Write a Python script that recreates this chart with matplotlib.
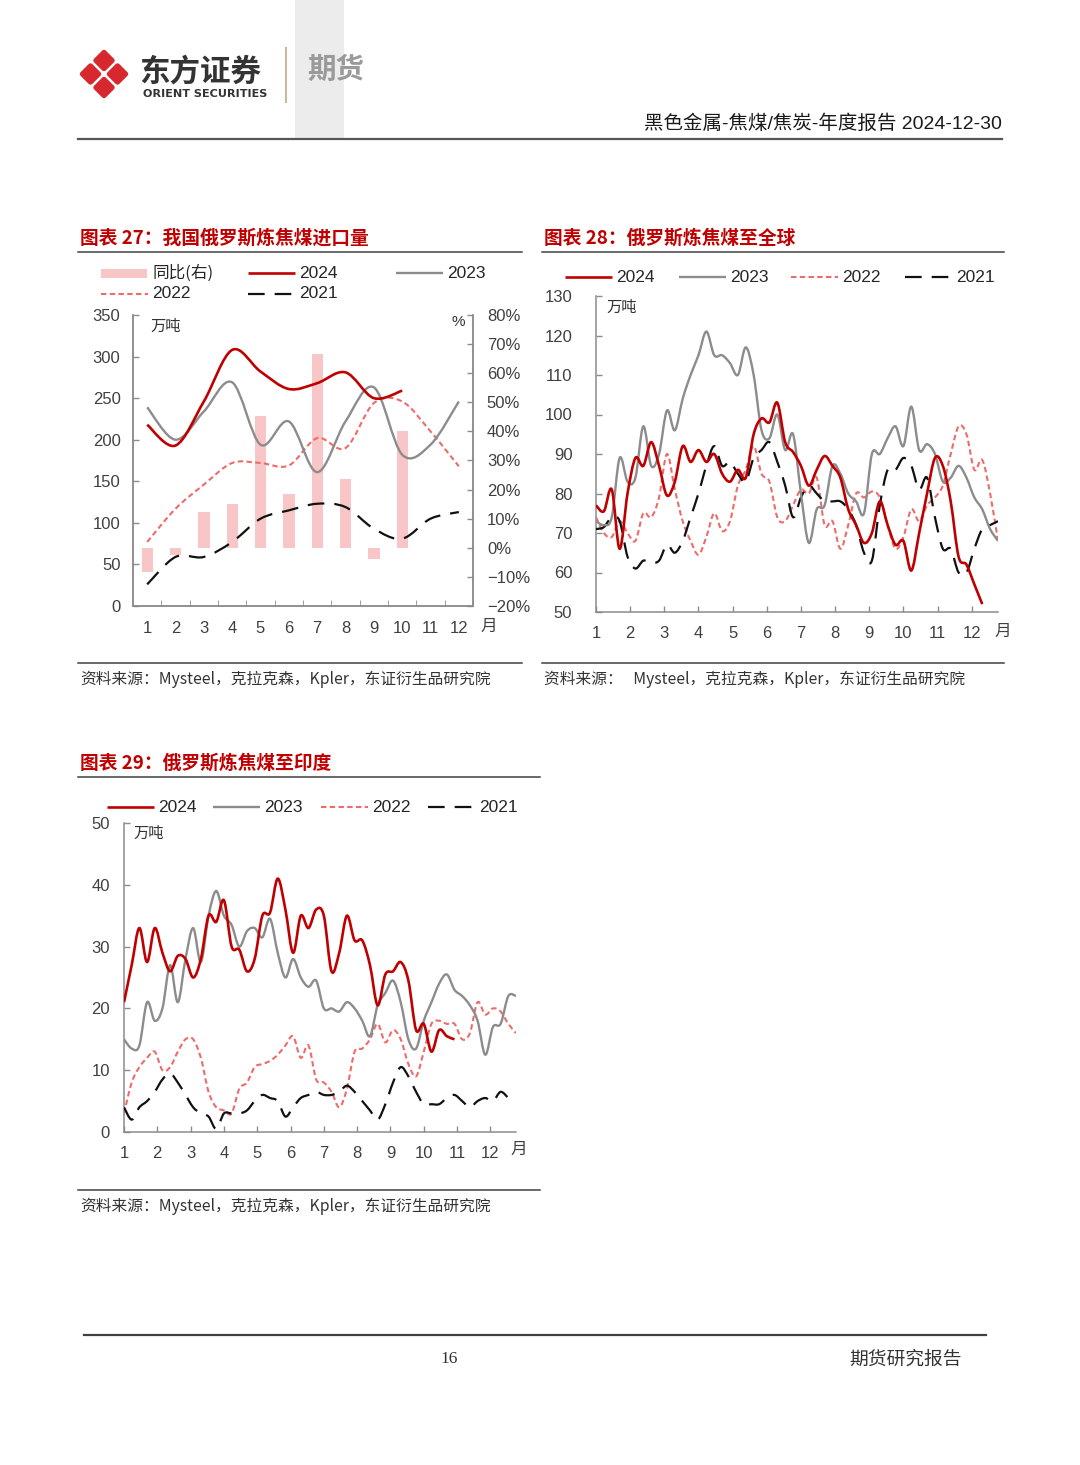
import numpy as np
import matplotlib.pyplot as plt
from matplotlib.path import Path
from matplotlib.patches import PathPatch, Polygon, Rectangle
from matplotlib.ticker import FixedLocator, FuncFormatter

plt.rcParams['font.family'] = ['Liberation Sans', 'Noto Sans CJK SC', 'DejaVu Sans']
plt.rcParams['axes.unicode_minus'] = True

# ---- chart 27: monthly imports of Russian coking coal (10k t) and yoy (%)
c27_months = list(range(1, 13))
c27_2024 = [218, 193, 246, 308, 282, 261, 268, 281, 250, 259]
c27_2023 = [239, 200, 234, 269, 194, 222, 161, 222, 263, 182, 194, 246]
c27_2022 = [77, 117, 146, 172, 172, 169, 202, 190, 244, 246, 210, 168]
c27_2021 = [26, 59, 59, 77, 105, 115, 123, 119, 93, 81, 105, 113]
c27_yoy = [-8.3, -2.5, 12.4, 14.9, 45.2, 18.4, 66.5, 23.5, -4.0, 40.0]

# ---- chart 28: weekly Russian coking coal shipments, global (10k t)
c28_2024 = [77, 75.5, 81, 66, 80, 89, 87, 93, 87, 79.5, 83, 92, 88, 91, 88, 90, 85,
            83, 86, 84, 95, 99, 98, 103, 93, 90.5, 87, 82, 86, 89.5, 87, 84, 76, 72,
            67.5, 70, 78, 72, 67, 68, 60.5, 70, 80, 89, 87, 78, 64, 62, 57, 52]
c28_2023 = [73, 72, 74, 89, 83, 84, 97, 87, 90, 101, 96, 104, 110, 115, 121, 115, 115,
            113, 110, 117, 110, 96, 94, 100, 91, 95, 80, 67.5, 76, 77, 87, 85, 80, 78,
            75, 90, 90, 94, 97, 92, 102, 91, 92.5, 90, 83, 84, 87, 84, 79, 76, 71, 68]
c28_2022 = [74, 70, 69, 73, 70, 68, 75, 74, 79, 90, 81, 73, 68, 64.5, 69, 75, 70.5,
            73, 82, 86, 92, 85, 83, 74, 73, 77, 81, 80, 84, 72, 73, 66, 72, 80, 79,
            80.5, 79, 72, 66, 69, 76, 73, 77, 79, 82, 90, 97, 95, 86, 88.5, 80, 68]
c28_2021 = [71, 71.5, 74, 73, 64, 61, 63, 62.5, 63, 67, 65, 68, 74, 80, 87, 92, 87,
            88, 85, 83, 89, 91, 93, 88, 82, 74, 79, 82, 80, 78, 78, 78, 76, 72, 65,
            63, 77, 86, 86, 89, 87, 81, 84, 74, 66, 66, 60, 60, 66, 71, 72, 73]

# ---- chart 29: weekly Russian coking coal shipments to India (10k t)
c29_2024 = [21, 27, 33, 27.5, 33, 29, 26, 28.5, 28, 25, 28, 35, 34, 37.5, 30, 29.5,
            26, 28, 35, 35.5, 41, 36, 29, 35, 33, 36, 35, 26, 29, 35, 31, 31, 27,
            20.5, 25.5, 26, 27.5, 24.5, 16.5, 17.5, 13, 16.5, 15.5, 15]
c29_2023 = [15, 13.5, 14, 21, 18, 20, 27, 21, 28, 33, 27.5, 35, 39, 35, 33.5, 30,
            32.5, 33, 31.5, 34.5, 29, 25, 28, 25, 23.5, 24.5, 20, 20, 19.5, 21, 20,
            18, 15.5, 20.5, 22.5, 24.5, 21, 15, 13.5, 18, 21, 24, 25.5, 23, 22,
            20.5, 18, 12.5, 17, 17.5, 22, 22]
c29_2022 = [3, 8, 10.5, 12, 13, 10, 10.5, 13, 15, 15, 12, 6.5, 4, 3.5, 3, 7, 8,
            10.5, 11, 11.5, 12.5, 14, 15.5, 12, 14, 8.5, 8, 6.5, 4, 7, 13, 13.5,
            15, 17.5, 14.5, 16.5, 15, 11, 9, 13, 17.5, 18, 17.5, 17.5, 15, 16, 21,
            19, 20, 19.5, 17.5, 16]
c29_2021 = [4, 2, 4, 5, 6.5, 8.5, 9.5, 8, 6, 4, 3, 2.5, 0.5, 3, 3, 3, 3.5, 5, 6,
            5.5, 5, 2.5, 4, 5.5, 6, 6.5, 6, 6, 6.5, 7.5, 6.5, 5, 3.5, 2, 4.5, 8,
            10.5, 9, 6.5, 4.5, 4.5, 4.5, 5.5, 6, 5, 4, 5, 5.5, 5, 6.5, 5.5]

year_labels = ['2024', '2023', '2022', '2021']
RED = '#c00000'
GREY = '#8c8c8c'
PINK = '#ee6b6b'
BLACK = '#111111'
BAR = '#f8c6c6'
TXT = '#404040'

styles = {
    '2024': dict(color=RED, lw=1.9, ls='-'),
    '2023': dict(color=GREY, lw=1.7, ls='-'),
    '2022': dict(color=PINK, lw=1.5, ls=(0, (2.6, 1.6))),
    '2021': dict(color=BLACK, lw=1.6, ls=(0, (7.5, 4.5))),
}

W, H = 1080, 1465
fig = plt.figure(figsize=(W / 100, H / 100), dpi=100)


def box(x0, y0, x1, y1):
    return [x0 / W, 1 - y1 / H, (x1 - x0) / W, (y1 - y0) / H]


def smooth_line(ax, x, y, key, z=3):
    # smoothed line like the excel chart, drawn as bezier path
    pts = np.column_stack([x, y]).astype(float)
    n = len(pts)
    verts = [pts[0]]
    codes = [Path.MOVETO]
    for i in range(n - 1):
        p0 = pts[max(i - 1, 0)]
        p1 = pts[i]
        p2 = pts[i + 1]
        p3 = pts[min(i + 2, n - 1)]
        verts += [p1 + (p2 - p0) / 6, p2 - (p3 - p1) / 6, p2]
        codes += [Path.CURVE4] * 3
    st = styles[key]
    ax.add_patch(PathPatch(Path(verts, codes), fill=False, edgecolor=st['color'],
                           lw=st['lw'], linestyle=st['ls'], zorder=z,
                           capstyle='butt', joinstyle='round'))


page = fig.add_axes([0, 0, 1, 1])
page.set_xlim(0, W)
page.set_ylim(H, 0)
page.axis('off')

# ---- header
page.add_patch(Rectangle((295, 0), 49, 138, color='#ececec', lw=0))
cx, cy, h = 104, 74, 13.5
for dx, dy in [(-h, 0), (h, 0), (0, -h), (0, h)]:
    k = 8.3
    px, py = cx + dx, cy + dy
    page.add_patch(Polygon([(px, py - k), (px + k, py), (px, py + k), (px - k, py)],
                           closed=True, facecolor='#d7282f', edgecolor='#d7282f',
                           lw=3.5, joinstyle='round'))
page.text(139, 72, '东方证券', fontsize=22, fontweight='bold', color='#333333',
          family='Noto Sans CJK SC', va='center', ha='left')
page.text(143, 94, 'ORIENT SECURITIES', fontsize=8.1, fontweight='bold',
          color='#333333', family='DejaVu Sans', va='center', ha='left')
page.plot([286, 286], [48, 102], color='#c9b99a', lw=1.5)
page.text(307, 70, '期货', fontsize=20.5, fontweight='bold', color='#9a9a9a',
          family='Noto Sans CJK SC', va='center', ha='left')
page.text(1002, 124, '黑色金属-焦煤/焦炭-年度报告 2024-12-30', fontsize=14,
          color='#1a1a1a', va='center', ha='right')
page.plot([78, 1002], [138.5, 138.5], color='#555555', lw=1.6)

# ---- footer
page.plot([84, 986], [1335, 1335], color='#404040', lw=1.6)
page.text(449, 1359, '16', fontsize=12.5, color='#333333', family='Liberation Serif',
          va='center', ha='center')
page.text(962, 1359, '期货研究报告', fontsize=13.5, color='#333333',
          family='Noto Sans CJK SC', va='center', ha='right')


def frame(x0, x1, ytitle, ysrc, title, src):
    page.text(x0 + 2, ytitle, title, fontsize=13.5, fontweight='bold', color=RED,
              family='Noto Sans CJK SC', va='center', ha='left')
    page.plot([x0, x1], [ytitle + 14, ytitle + 14], color='#404040', lw=1.1)
    page.plot([x0, x1], [ysrc, ysrc], color='#404040', lw=1.1)
    page.text(x0 + 2, ysrc + 16, src, fontsize=11.3, color='#333333',
              family='Noto Sans CJK SC', va='center', ha='left')


def legend_line(x, y, key, label):
    st = styles[key]
    page.plot([x, x + 47], [y, y], color=st['color'], lw=st['lw'], ls=st['ls'],
              solid_capstyle='butt', dash_capstyle='butt')
    page.text(x + 51, y, label, fontsize=12.5, color='#262626', va='center', ha='left')


src_text = '资料来源：Mysteel，克拉克森，Kpler，东证衍生品研究院'
frame(78, 522, 238, 663, '图表 27：我国俄罗斯炼焦煤进口量', src_text)
frame(542, 1004, 238, 663, '图表 28：俄罗斯炼焦煤至全球',
      '资料来源：   Mysteel，克拉克森，Kpler，东证衍生品研究院')
frame(78, 540, 763, 1190, '图表 29：俄罗斯炼焦煤至印度', src_text)


def style_axis(ax, spines):
    for s in ['left', 'right', 'top', 'bottom']:
        ax.spines[s].set_visible(s in spines)
        ax.spines[s].set_color('#8c8c8c')
        ax.spines[s].set_linewidth(1.1)
    ax.tick_params(direction='in', length=4, width=1, color='#8c8c8c',
                   labelsize=12, labelcolor=TXT)


# ---- chart 27
ax27b = fig.add_axes(box(133, 315, 473, 606))
ax27 = ax27b.twinx()
ax27b.yaxis.tick_right()
ax27.yaxis.tick_left()
ax27.set_zorder(ax27b.get_zorder() + 1)
ax27.patch.set_visible(False)
ax27b.bar(c27_months[:len(c27_yoy)], c27_yoy, width=0.4, color=BAR, zorder=1)
ax27b.set_ylim(-20, 80)
ax27b.set_yticks(range(-20, 81, 10))
ax27b.yaxis.set_major_formatter(FuncFormatter(lambda v, p: f'{v:.0f}%'.replace('-', '\u2212')))
smooth_line(ax27, c27_months, c27_2022, '2022')
smooth_line(ax27, c27_months, c27_2021, '2021')
smooth_line(ax27, c27_months, c27_2023, '2023')
smooth_line(ax27, c27_months[:len(c27_2024)], c27_2024, '2024')
ax27.set_ylim(0, 350)
ax27.set_yticks(range(0, 351, 50))
for a in (ax27, ax27b):
    style_axis(a, ['left', 'right', 'bottom'])
ax27b.set_xlim(0.5, 12.5)
ax27b.set_xticks(c27_months)
ax27b.xaxis.set_minor_locator(FixedLocator(np.arange(1.5, 12, 1)))
ax27b.tick_params(axis='x', which='major', length=0, pad=11)
ax27b.tick_params(axis='x', which='minor', direction='in', length=4, color='#8c8c8c')
ax27b.tick_params(axis='y', pad=10)
ax27.tick_params(axis='y', pad=9)
ax27.text(0.05, 0.96, '万吨', transform=ax27.transAxes, fontsize=11, color='#333333',
          family='Noto Sans CJK SC', va='center', ha='left')
ax27.text(0.975, 0.975, '%', transform=ax27.transAxes, fontsize=11, color='#333333',
          va='center', ha='right')
page.text(480, 626, '月', fontsize=12, color=TXT, family='Noto Sans CJK SC',
          va='center', ha='left')
page.add_patch(Rectangle((101, 269), 46, 9, color=BAR, lw=0))
page.text(152, 273, '同比(右)', fontsize=12, color='#262626',
          family='Noto Sans CJK SC', va='center', ha='left')
legend_line(248, 273, '2024', '2024')
legend_line(396, 273, '2023', '2023')
legend_line(101, 294, '2022', '2022')
legend_line(248, 294, '2021', '2021')


def weekly_chart(rect, series, ylim, ystep, ypad, label_pos, legend_y, legend_x):
    ax = fig.add_axes(box(*rect))
    step = 12 / 52
    for key in ['2022', '2021', '2023', '2024']:
        vals = series[key]
        smooth_line(ax, 1 + np.arange(len(vals)) * step, vals, key)
    ax.set_xlim(1, 1 + 51 * step)
    ax.set_ylim(*ylim)
    ax.set_yticks(np.arange(ylim[0], ylim[1] + 1, ystep))
    ax.set_xticks(range(1, 13))
    style_axis(ax, ['left', 'bottom'])
    ax.tick_params(axis='y', pad=ypad)
    ax.tick_params(axis='x', pad=10)
    ax.text(0.025, 0.965, '万吨', transform=ax.transAxes, fontsize=11,
            color='#333333', family='Noto Sans CJK SC', va='center', ha='left')
    page.text(label_pos[0], label_pos[1], '月', fontsize=12, color=TXT,
              family='Noto Sans CJK SC', va='center', ha='left')
    for key, x in zip(year_labels, legend_x):
        legend_line(x, legend_y, key, key)
    return ax


weekly_chart((596, 296, 998, 612),
             {'2024': c28_2024, '2023': c28_2023, '2022': c28_2022, '2021': c28_2021},
             (50, 130), 10, 17, (994, 631), 277, [565, 679, 791, 905])
weekly_chart((124, 823, 516, 1132),
             {'2024': c29_2024, '2023': c29_2023, '2022': c29_2022, '2021': c29_2021},
             (0, 50), 10, 10, (510, 1149), 807, [107, 213, 321, 428])

fig.savefig('out.png', dpi=100, facecolor='white')
